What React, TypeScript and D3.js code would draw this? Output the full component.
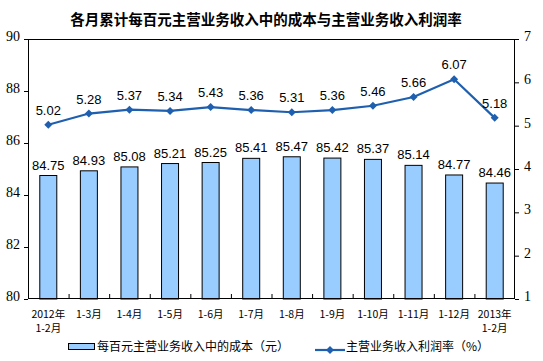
import React from "react";
import * as d3 from "d3";

const categories: string[][] = [
  ["2012年", "1-2月"], ["1-3月"], ["1-4月"], ["1-5月"], ["1-6月"], ["1-7月"],
  ["1-8月"], ["1-9月"], ["1-10月"], ["1-11月"], ["1-12月"], ["2013年", "1-2月"],
];
const costValues = [84.75, 84.93, 85.08, 85.21, 85.25, 85.41, 85.47, 85.42, 85.37, 85.14, 84.77, 84.46];
const profitValues = [5.02, 5.28, 5.37, 5.34, 5.43, 5.36, 5.31, 5.36, 5.46, 5.66, 6.07, 5.18];
const leftTicks = [80, 82, 84, 86, 88, 90];
const rightTicks = [1, 2, 3, 4, 5, 6, 7];
const title = "各月累计每百元主营业务收入中的成本与主营业务收入利润率";
const legendBar = "每百元主营业务收入中的成本（元）";
const legendLine = "主营业务收入利润率（%）";

const W = 543, H = 361;
const L = 28, R = 515, T = 39, B = 299;
const BAR_FILL = "#99CCFF";
const LINE = "#1F5FAF";
const CJK = "'Noto Sans CJK SC', sans-serif";
const SERIF = "'Liberation Serif', 'DejaVu Serif', serif";

export default function App() {
  const x = d3.scaleBand<number>().domain(d3.range(categories.length)).range([L, R]).paddingInner(0).paddingOuter(0);
  const yL = d3.scaleLinear().domain([80, 90]).range([B, T]);
  const yR = d3.scaleLinear().domain([1, 7]).range([B, T]);
  const bw = 17;
  const cx = (i: number) => (x(i) as number) + x.bandwidth() / 2;
  const line = d3.line<number>().x((_, i) => cx(i)).y((d) => yR(d));
  const diamond = (px: number, py: number, s: number) =>
    `M${px},${py - s}L${px + s},${py}L${px},${py + s}L${px - s},${py}Z`;

  return (
    <svg width={W} height={H} style={{ position: "absolute", left: 0, top: 0, background: "#fff" }}>
      <rect x={0} y={0} width={W} height={H} fill="#fff" />
      <text x={266} y={25} textAnchor="middle" fontFamily={CJK} fontWeight="bold" fontSize={14.5} fill="#000">{title}</text>

      {costValues.map((v, i) => (
        <rect key={"b" + i} x={cx(i) - bw / 2} y={yL(v)} width={bw} height={B - yL(v)} fill={BAR_FILL} stroke="#000" strokeWidth={1} />
      ))}
      {costValues.map((v, i) => (
        <text key={"bl" + i} x={cx(i)} y={yL(v) - 6} textAnchor="middle" fontFamily="'Liberation Sans', Arial, sans-serif" fontSize={13} fill="#000">{v.toFixed(2)}</text>
      ))}

      <line x1={L} x2={R} y1={T + 0.5} y2={T + 0.5} stroke="#000" />
      <line x1={L + 0.5} x2={L + 0.5} y1={T} y2={B} stroke="#000" />
      <line x1={R - 0.5} x2={R - 0.5} y1={T} y2={B} stroke="#000" />
      <line x1={L} x2={R} y1={B - 0.5} y2={B - 0.5} stroke="#000" />

      {d3.range(1, categories.length).map((i) => (
        <line key={"ct" + i} x1={(x(i) as number) + 0.5} x2={(x(i) as number) + 0.5} y1={B} y2={B - 5} stroke="#000" />
      ))}

      {leftTicks.map((t) => (
        <g key={"lt" + t}>
          <line x1={L - 4} x2={L} y1={yL(t) + 0.5} y2={yL(t) + 0.5} stroke="#000" />
          <text x={20} y={yL(t) + 2} textAnchor="end" fontFamily={SERIF} fontSize={14} fill="#000">{t}</text>
        </g>
      ))}
      {rightTicks.map((t) => (
        <g key={"rt" + t}>
          <line x1={R} x2={R + 4} y1={yR(t) + 0.5} y2={yR(t) + 0.5} stroke="#000" />
          <text x={524} y={yR(t) + 2} textAnchor="start" fontFamily={SERIF} fontSize={14} fill="#000">{t}</text>
        </g>
      ))}

      {categories.map((c, i) => (
        <text key={"cl" + i} x={cx(i)} y={318} textAnchor="middle" fontFamily={CJK} fontSize={10.5} fill="#000">
          {c.map((s, j) => (
            <tspan key={j} x={cx(i)} dy={j === 0 ? 0 : 14}>{s}</tspan>
          ))}
        </text>
      ))}

      <path d={line(profitValues) || ""} fill="none" stroke={LINE} strokeWidth={2.2} />
      {profitValues.map((v, i) => (
        <path key={"m" + i} d={diamond(cx(i), yR(v), 4)} fill={LINE} />
      ))}
      {profitValues.map((v, i) => (
        <text key={"ml" + i} x={cx(i)} y={yR(v) - 10} textAnchor="middle" fontFamily="'Liberation Sans', Arial, sans-serif" fontSize={13} fill="#000">{v.toFixed(2)}</text>
      ))}

      <rect x={68.5} y={343.5} width={26} height={6} fill={BAR_FILL} stroke="#000" />
      <text x={97} y={351} fontFamily={CJK} fontSize={12} fill="#000">{legendBar}</text>
      <line x1={315} x2={345} y1={350} y2={350} stroke={LINE} strokeWidth={2.2} />
      <path d={diamond(330, 350, 4)} fill={LINE} />
      <text x={346} y={351} fontFamily={CJK} fontSize={12} fill="#000">{legendLine}</text>
    </svg>
  );
}
